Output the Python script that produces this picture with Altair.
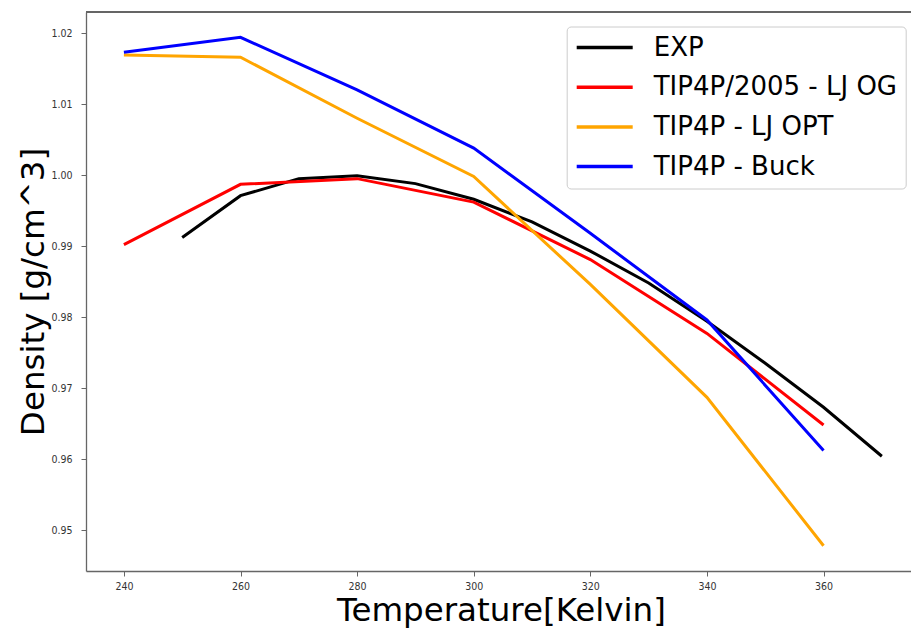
import altair as alt
import pandas as pd

# ---- data ----
series_names = ["EXP", "TIP4P/2005 - LJ OG", "TIP4P - LJ OPT", "TIP4P - Buck"]
series_colors = ["#000000", "#ff0000", "#ffa500", "#0000ff"]

exp_temps = [250, 260, 270, 280, 290, 300, 310, 320, 330, 340, 350, 360, 370]
exp_density = [0.9912, 0.9971, 0.9995, 0.9999, 0.9988, 0.9966, 0.9934, 0.9893,
               0.9848, 0.9794, 0.9735, 0.9673, 0.9604]

sim_temps = [240, 260, 280, 300, 320, 340, 360]
og_density = [0.9902, 0.9987, 0.9995, 0.9962, 0.9881, 0.9777, 0.9648]
opt_density = [1.0169, 1.0166, 1.0080, 0.9998, 0.9846, 0.9687, 0.9478]
buck_density = [1.0173, 1.0194, 1.0120, 1.0038, 0.9918, 0.9796, 0.9612]

x_ticks = [240, 260, 280, 300, 320, 340, 360]
y_ticks = [0.95, 0.96, 0.97, 0.98, 0.99, 1.00, 1.01, 1.02]

rows = []
for t, d in zip(exp_temps, exp_density):
    rows.append({"T": t, "rho": d, "series": series_names[0], "k": 0})
for k, vals in enumerate([og_density, opt_density, buck_density], start=1):
    for t, d in zip(sim_temps, vals):
        rows.append({"T": t, "rho": d, "series": series_names[k], "k": k})
df = pd.DataFrame(rows)

W, H = 825, 559
label_font = "DejaVu Sans Condensed, Liberation Sans Narrow, DejaVu Sans"

lines = alt.Chart(df).mark_line(strokeWidth=3, strokeCap="butt").encode(
    x=alt.X("T:Q",
            scale=alt.Scale(domain=[233.5, 375.0], nice=False, zero=False),
            axis=alt.Axis(values=x_ticks, title="Temperature[Kelvin]", grid=False,
                          format="d", titleX=415, titleY=49,
                          titleBaseline="alphabetic", titleAlign="center")),
    y=alt.Y("rho:Q",
            scale=alt.Scale(domain=[0.94424, 1.02297], nice=False, zero=False),
            axis=alt.Axis(values=y_ticks, title="Density [g/cm^3]", grid=False,
                          format=".2f", titleX=-43, titleY=279.5, titleAngle=270,
                          titleBaseline="alphabetic", titleAlign="center")),
    color=alt.Color("series:N",
                    scale=alt.Scale(domain=series_names, range=series_colors),
                    legend=alt.Legend(title=None, orient="none",
                                      legendX=480.7, legendY=14.5,
                                      symbolType="stroke", symbolSize=3136,
                                      symbolStrokeWidth=3.5, clipHeight=26,
                                      rowPadding=13.7, labelOffset=19,
                                      labelFontSize=26, labelFont="DejaVu Sans",
                                      labelColor="#000000", padding=8,
                                      cornerRadius=4, strokeColor="#cccccc",
                                      fillColor="rgba(255,255,255,0.85)",
                                      labelLimit=400)),
    order=alt.Order("k:Q"),
    detail="series:N",
)

top_spine = alt.Chart(df).mark_rule(color="#666666", strokeWidth=1.3).encode(
    x=alt.value(0), x2=alt.value(W), y=alt.value(0)
)

chart = alt.layer(top_spine, lines).properties(
    width=W, height=H,
    padding={"left": 86, "top": 12, "right": 0, "bottom": 57},
    autosize=alt.AutoSizeParams(type="none"),
).configure_view(stroke=None).configure_axis(
    domainColor="#666666", domainWidth=1.3,
    tickColor="#666666", tickSize=5, tickWidth=1,
    labelFont=label_font, labelFontSize=10.5, labelColor="#333333",
    titleFont="DejaVu Sans", titleFontWeight="normal", titleColor="#000000",
).configure_axisX(
    titleFontSize=32.5, labelPadding=5,
).configure_axisY(
    titleFontSize=32.5, labelPadding=9,
)

chart.save("out.html", embed_options={"renderer": "svg", "actions": False})
